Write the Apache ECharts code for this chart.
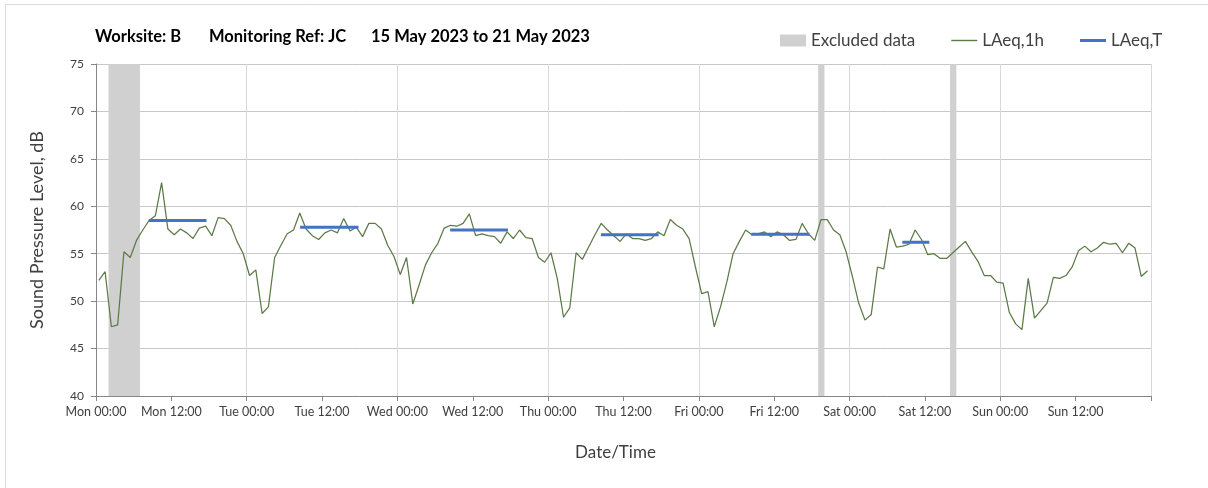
<!DOCTYPE html>
<html>
<head>
<meta charset="utf-8">
<script src="https://cdn.jsdelivr.net/npm/echarts@6/dist/echarts.min.js"></script>
<style>
html, body { margin: 0; padding: 0; background: #fff; }
#chart { width: 1208px; height: 488px; }
</style>
</head>
<body>
<div id="chart"></div>
<script>
// axis labels
var dayNames = ['Mon', 'Tue', 'Wed', 'Thu', 'Fri', 'Sat', 'Sun'];

// hourly LAeq,1h from Mon 00:00 (one value per hour, 168 hours)
var laeq1h = [
    52.2, 53.1, 47.3, 47.5, 55.2, 54.6, 56.4, 57.5, 58.5, 59.0, 62.5, 57.6,
    57.0, 57.6, 57.2, 56.6, 57.7, 57.9, 56.9, 58.8, 58.7, 58.0, 56.3, 55.0,
    52.7, 53.3, 48.7, 49.4, 54.6, 55.9, 57.1, 57.5, 59.3, 57.6, 56.9, 56.5,
    57.2, 57.5, 57.2, 58.7, 57.4, 57.8, 56.8, 58.2, 58.2, 57.6, 55.9, 54.7,
    52.8, 54.6, 49.7, 51.7, 53.8, 55.1, 56.1, 57.7, 58.0, 57.9, 58.2, 59.2,
    56.9, 57.1, 56.9, 56.8, 56.1, 57.3, 56.6, 57.5, 56.7, 56.6, 54.6, 54.1,
    55.1, 52.4, 48.3, 49.3, 55.1, 54.4, 55.7, 57.0, 58.2, 57.5, 56.9, 56.3,
    57.1, 56.6, 56.6, 56.4, 56.6, 57.3, 56.9, 58.6, 58.0, 57.6, 56.6, 53.6,
    50.8, 51.0, 47.3, 49.4, 52.0, 55.0, 56.3, 57.5, 57.0, 57.1, 57.3, 56.8,
    57.3, 57.0, 56.4, 56.5, 58.2, 57.1, 56.4, 58.6, 58.6, 57.5, 57.0, 55.2,
    52.6, 49.8, 48.0, 48.6, 53.6, 53.4, 57.6, 55.7, 55.8, 56.0, 57.5, 56.5,
    54.9, 55.0, 54.5, 54.5, 55.1, 55.7, 56.3, 55.2, 54.2, 52.7, 52.7, 52.0,
    51.9, 48.8, 47.6, 47.0, 52.4, 48.2, 49.0, 49.8, 52.5, 52.4, 52.7, 53.6,
    55.3, 55.8, 55.2, 55.6, 56.2, 56.0, 56.1, 55.1, 56.1, 55.6, 52.6, 53.2
];
var hourOffset = 0.45;   // sample time inside each hour

// LAeq,T periods (hours from Mon 00:00)
var periodStart = [8.4, 32.5, 56.4, 80.4, 104.35, 128.4];
var periodEnd   = [17.6, 41.8, 65.6, 89.6, 113.6, 132.7];
var periodLevel = [58.5, 57.8, 57.5, 57.0, 57.05, 56.2];

// excluded data (hours from Mon 00:00)
var excludedStart = [2, 115, 136];
var excludedEnd   = [7, 116, 137];

var font = 'Lato, "Open Sans", sans-serif';

var lineData = laeq1h.map(function(v, i){
    return [i + hourOffset, v];
});

var periodData = [];
periodStart.forEach(function(s, i){
    periodData.push([s, periodLevel[i]]);
    periodData.push([periodEnd[i], periodLevel[i]]);
    periodData.push([periodEnd[i] + 1, '-']);
});

var excludedAreas = excludedStart.map(function(s, i){
    return [{ xAxis: s }, { xAxis: excludedEnd[i] }];
});

var titleStyle = { fontFamily: font, fontSize: 16.5, fontWeight: 'bold', color: '#000' };

var chart = echarts.init(document.getElementById('chart'));

chart.setOption({
    animation: false,
    backgroundColor: '#fff',
    title: [
        { text: 'Worksite: B', left: 90, top: 23, textStyle: titleStyle },
        { text: 'Monitoring Ref: JC', left: 204, top: 23, textStyle: titleStyle },
        { text: '15 May 2023 to 21 May 2023', left: 366, top: 23, textStyle: titleStyle }
    ],
    legend: {
        left: 775,
        top: 27,
        itemWidth: 26,
        itemHeight: 12,
        itemGap: 36,
        textStyle: { fontFamily: font, fontSize: 17, color: '#404040' },
        data: [
            { name: 'Excluded data', icon: 'rect' },
            { name: 'LAeq,1h', icon: 'path://M0,0H26V1.4H0Z' },
            { name: 'LAeq,T', icon: 'path://M0,0H26V3H0Z' }
        ]
    },
    graphic: [{
        type: 'rect',
        silent: true,
        shape: { x: 5.5, y: 4.5, width: 1220, height: 500 },
        style: { fill: 'none', stroke: '#d9d9d9', lineWidth: 1 }
    }],
    grid: { left: 96, right: 57, top: 64, bottom: 92 },
    xAxis: [
        {
            type: 'value',
            min: 0,
            max: 168,
            interval: 12,
            name: 'Date/Time',
            nameLocation: 'middle',
            nameGap: 48,
            nameTextStyle: { fontFamily: font, fontSize: 17, color: '#404040', padding: [0, 16, 0, 0] },
            axisLine: { lineStyle: { color: '#868686' } },
            axisTick: { length: 5, lineStyle: { color: '#868686' } },
            axisLabel: {
                margin: 9,
                fontFamily: font,
                fontSize: 12.5,
                color: '#404040',
                formatter: function(v){
                    if (v >= 168) return '';
                    return dayNames[Math.floor(v / 24)] + ' ' + (v % 24 === 0 ? '00:00' : '12:00');
                }
            },
            splitLine: { show: false }
        },
        {
            // day gridlines only
            type: 'value',
            position: 'top',
            min: 0,
            max: 168,
            interval: 24,
            axisLine: { show: false },
            axisTick: { show: false },
            axisLabel: { show: false },
            splitLine: { show: true, lineStyle: { color: '#d9d9d9' } }
        }
    ],
    yAxis: {
        type: 'value',
        min: 40,
        max: 75,
        interval: 5,
        name: 'Sound Pressure Level, dB',
        nameLocation: 'middle',
        nameGap: 50,
        nameTextStyle: { fontFamily: font, fontSize: 18, color: '#404040' },
        axisLine: { show: true, lineStyle: { color: '#868686' } },
        axisTick: { show: true, length: 5, lineStyle: { color: '#868686' } },
        axisLabel: { margin: 12, fontFamily: font, fontSize: 12, color: '#404040' },
        splitLine: { lineStyle: { color: '#c8c8c8' } }
    },
    series: [
        {
            name: 'Excluded data',
            type: 'line',
            data: [],
            itemStyle: { color: '#d0d0d0' },
            lineStyle: { color: '#d0d0d0' },
            markArea: {
                silent: true,
                label: { show: false },
                itemStyle: { color: '#d0d0d0', opacity: 1 },
                data: excludedAreas
            }
        },
        {
            name: 'LAeq,1h',
            type: 'line',
            symbol: 'none',
            data: lineData,
            itemStyle: { color: '#5c7a48' },
            lineStyle: { color: '#5c7a48', width: 1.25 },
            z: 3
        },
        {
            name: 'LAeq,T',
            type: 'line',
            symbol: 'none',
            connectNulls: false,
            data: periodData,
            itemStyle: { color: '#4472c4' },
            lineStyle: { color: '#4472c4', width: 3 },
            z: 4
        }
    ]
});
</script>
</body>
</html>
